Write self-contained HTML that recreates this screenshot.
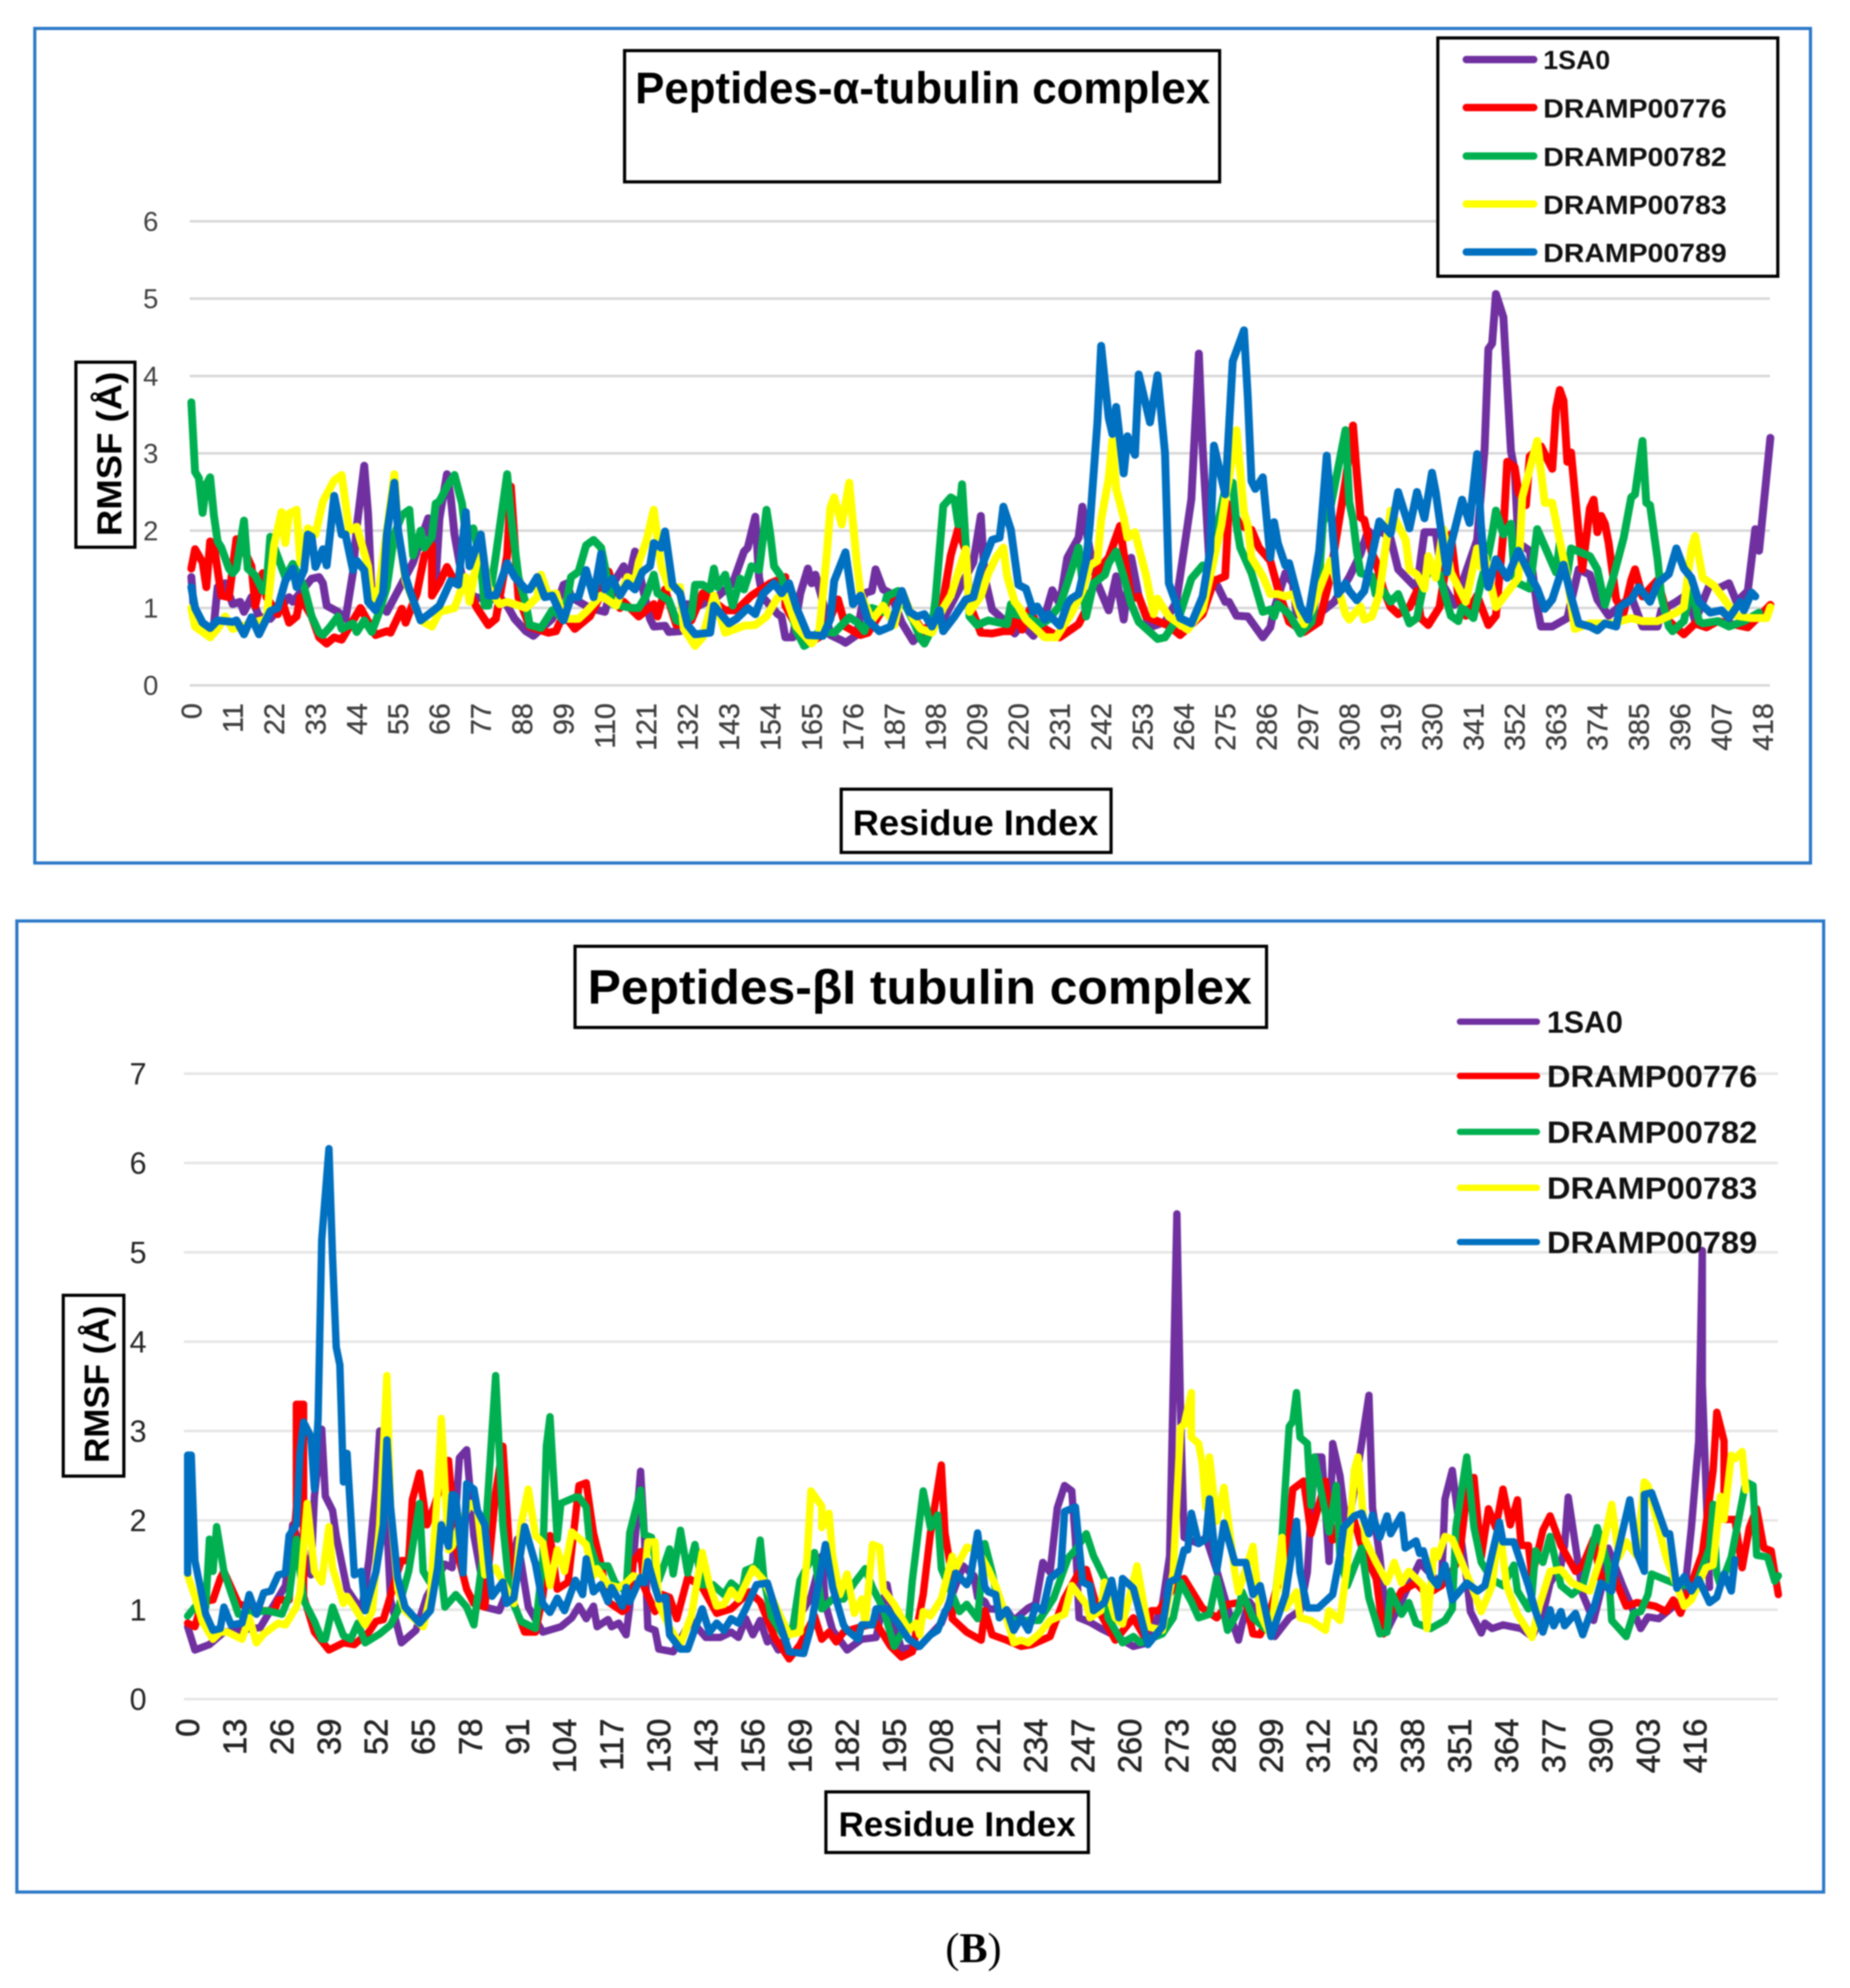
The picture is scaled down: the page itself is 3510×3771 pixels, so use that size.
<!DOCTYPE html>
<html lang="en">
<head>
<meta charset="utf-8">
<title>RMSF of peptide-tubulin complexes</title>
<style>
html,body{margin:0;padding:0;background:#fff;}
svg{display:block;filter:blur(1.3px);}
text{font-family:"Liberation Sans",sans-serif;}
</style>
</head>
<body>
<svg id="figure" xmlns="http://www.w3.org/2000/svg" width="3510" height="3771" viewBox="0 0 3510 3771">
<rect x="0" y="0" width="3510" height="3771" fill="#ffffff"/>

<rect x="66" y="54" width="3369" height="1583" fill="none" stroke="#2b78c8" stroke-width="6"/>
<g id="alphaGrid"></g>
<g id="alphaYTicks"></g>
<g id="alphaXTicks"></g>
<g id="alphaLines"></g>
<g>
<rect x="1185" y="96" width="1129" height="249" fill="#fff" stroke="#000" stroke-width="6"/>
<text x="1205" y="196" font-size="84" font-weight="700" fill="#000" textLength="1091" lengthAdjust="spacingAndGlyphs">Peptides-α-tubulin complex</text>
</g>
<g>
<rect x="2728" y="72" width="645" height="452" fill="#fff" stroke="#000" stroke-width="6"/>
<line x1="2782" x2="2910" y1="113" y2="113" stroke="#7030A0" stroke-width="14" stroke-linecap="round"/>
<text x="2928" y="131" font-size="50" font-weight="700" fill="#111" textLength="127" lengthAdjust="spacingAndGlyphs">1SA0</text>
<line x1="2782" x2="2910" y1="204" y2="204" stroke="#FF0000" stroke-width="14" stroke-linecap="round"/>
<text x="2928" y="223" font-size="50" font-weight="700" fill="#111" textLength="348" lengthAdjust="spacingAndGlyphs">DRAMP00776</text>
<line x1="2782" x2="2910" y1="296" y2="296" stroke="#00B050" stroke-width="14" stroke-linecap="round"/>
<text x="2928" y="315" font-size="50" font-weight="700" fill="#111" textLength="348" lengthAdjust="spacingAndGlyphs">DRAMP00782</text>
<line x1="2782" x2="2910" y1="387" y2="387" stroke="#FFFF00" stroke-width="14" stroke-linecap="round"/>
<text x="2928" y="406" font-size="50" font-weight="700" fill="#111" textLength="348" lengthAdjust="spacingAndGlyphs">DRAMP00783</text>
<line x1="2782" x2="2910" y1="478" y2="478" stroke="#0070C0" stroke-width="14" stroke-linecap="round"/>
<text x="2928" y="497" font-size="50" font-weight="700" fill="#111" textLength="348" lengthAdjust="spacingAndGlyphs">DRAMP00789</text>
</g>
<g>
<rect x="144" y="687" width="112" height="351" fill="#fff" stroke="#000" stroke-width="6"/>
<text transform="translate(230,1017) rotate(-90)" x="0" y="0" font-size="66" font-weight="700" fill="#000" textLength="312" lengthAdjust="spacingAndGlyphs">RMSF (Å)</text>
</g>
<g>
<rect x="1596" y="1497" width="512" height="120" fill="#fff" stroke="#000" stroke-width="6"/>
<text x="1618" y="1584" font-size="68" font-weight="700" fill="#000" textLength="466" lengthAdjust="spacingAndGlyphs">Residue Index</text>
</g>

<rect x="32" y="1747" width="3428" height="1842" fill="none" stroke="#2b78c8" stroke-width="6"/>
<g id="betaGrid"></g>
<g id="betaYTicks"></g>
<g id="betaXTicks"></g>
<g id="betaLines"></g>
<g>
<rect x="1091" y="1795" width="1312" height="154" fill="#fff" stroke="#000" stroke-width="6"/>
<text x="1115" y="1904" font-size="92" font-weight="700" fill="#000" textLength="1260" lengthAdjust="spacingAndGlyphs">Peptides-βI tubulin complex</text>
</g>
<g>
<line x1="2770" x2="2916" y1="1938" y2="1938" stroke="#7030A0" stroke-width="12" stroke-linecap="round"/>
<text x="2935" y="1959" font-size="58" font-weight="700" fill="#111" textLength="144" lengthAdjust="spacingAndGlyphs">1SA0</text>
<line x1="2770" x2="2916" y1="2041" y2="2041" stroke="#FF0000" stroke-width="12" stroke-linecap="round"/>
<text x="2935" y="2062" font-size="58" font-weight="700" fill="#111" textLength="399" lengthAdjust="spacingAndGlyphs">DRAMP00776</text>
<line x1="2770" x2="2916" y1="2147" y2="2147" stroke="#00B050" stroke-width="12" stroke-linecap="round"/>
<text x="2935" y="2168" font-size="58" font-weight="700" fill="#111" textLength="399" lengthAdjust="spacingAndGlyphs">DRAMP00782</text>
<line x1="2770" x2="2916" y1="2253" y2="2253" stroke="#FFFF00" stroke-width="12" stroke-linecap="round"/>
<text x="2935" y="2274" font-size="58" font-weight="700" fill="#111" textLength="399" lengthAdjust="spacingAndGlyphs">DRAMP00783</text>
<line x1="2770" x2="2916" y1="2356" y2="2356" stroke="#0070C0" stroke-width="12" stroke-linecap="round"/>
<text x="2935" y="2377" font-size="58" font-weight="700" fill="#111" textLength="399" lengthAdjust="spacingAndGlyphs">DRAMP00789</text>
</g>
<g>
<rect x="120" y="2457" width="115" height="343" fill="#fff" stroke="#000" stroke-width="6"/>
<text transform="translate(206,2775) rotate(-90)" x="0" y="0" font-size="66" font-weight="700" fill="#000" textLength="298" lengthAdjust="spacingAndGlyphs">RMSF (Å)</text>
</g>
<g>
<rect x="1567" y="3399" width="498" height="115" fill="#fff" stroke="#000" stroke-width="6"/>
<text x="1591" y="3483" font-size="66" font-weight="700" fill="#000" textLength="450" lengthAdjust="spacingAndGlyphs">Residue Index</text>
</g>
<text x="1847" y="3722" font-size="80" fill="#000" text-anchor="middle" style="font-family:'Liberation Serif',serif">(<tspan font-weight="700">B</tspan>)</text>
</svg>

<script>
const seriesNames = ["1SA0","DRAMP00776","DRAMP00782","DRAMP00783","DRAMP00789"];
const alphaYTickLabels = [0,1,2,3,4,5,6];
const alphaXTickLabels = [0,11,22,33,44,55,66,77,88,99,110,121,132,143,154,165,176,187,198,209,220,231,242,253,264,275,286,297,308,319,330,341,352,363,374,385,396,407,418];
const betaYTickLabels = [0,1,2,3,4,5,6,7];
const betaXTickLabels = [0,13,26,39,52,65,78,91,104,117,130,143,156,169,182,195,208,221,234,247,260,273,286,299,312,325,338,351,364,377,390,403,416];

const alphaPurpleRes = [0,1,4,6,7,9,11,13,14,16,18,21,26,27,32,34,35,36,39,41,43,44,46,47,48,52,59,63,65,66,68,69,70,72,75,79,82,84,86,89,91,96,99,100,101,106,110,112,115,116,118,120,122,123,126,127,130,132,135,140,144,147,148,150,151,152,156,157,158,160,162,164,165,166,168,170,173,174,177,179,181,182,184,186,189,192,195,200,208,210,211,213,216,219,221,224,227,229,231,233,236,237,239,241,244,246,248,250,252,255,259,262,264,266,268,269,271,273,275,276,278,281,285,287,288,291,293,294,298,304,308,311,313,315,316,319,321,326,327,328,331,333,336,342,344,345,346,347,349,351,352,353,356,358,359,362,366,369,372,374,377,383,386,390,391,395,398,400,404,406,409,411,414,416,417,420];
const alphaPurpleVal = [1.4,0.78,0.73,0.78,1.27,1.32,1.05,1.08,0.95,1.14,0.89,0.86,1.14,1.08,1.38,1.4,1.32,1.03,0.95,0.86,1.46,2.05,2.84,2.22,1.14,0.95,1.59,2.16,1.35,2.16,2.73,2.43,1.95,1.4,1.15,1.1,1.14,1.03,0.86,0.7,0.64,0.86,1.3,1.32,1.14,1,0.95,1.3,1.54,1.3,1.73,1.27,0.86,0.76,0.77,0.69,0.7,1.05,1.03,1.15,1.32,1.73,1.78,2.18,1.4,1.14,0.92,0.89,0.62,0.62,1.19,1.51,1.32,1.43,1.08,0.65,0.58,0.55,0.65,1.19,1.22,1.5,1.24,1.19,0.81,0.57,0.73,0.85,1.59,2.19,1.4,0.98,0.85,0.67,0.79,0.64,0.89,1.23,1.05,1.65,1.91,2.31,1.74,1.32,0.97,1.41,0.85,1.65,1.15,0.75,0.82,1.08,1.74,2.41,4.29,3.07,1.41,1.28,1.08,1.08,0.9,0.89,0.62,0.75,0.98,1.45,1.32,0.92,0.85,1.08,1.4,1.7,2,1.91,2.01,1.9,1.5,1.25,1.63,1.98,1.98,1.29,1.04,1.88,3.06,4.35,4.42,5.06,4.76,3.03,2.78,1.84,1.74,1.01,0.76,0.76,0.87,1.5,1.43,1.11,0.9,1.15,0.76,0.76,0.97,1.08,1.18,0.83,1.32,1.25,1.32,1.08,1.22,2.02,1.74,3.2];
const alphaRedRes = [0,1,3,4,5,6,8,10,12,14,16,17,19,20,23,24,26,28,29,32,34,36,38,40,45,49,52,53,56,57,60,62,64,64,66,68,70,73,76,79,81,84,85,87,90,95,97,99,102,106,108,111,114,115,119,123,124,126,129,133,136,142,145,149,154,158,158,161,165,168,172,174,178,180,186,189,191,195,200,202,204,206,207,210,213,216,218,219,221,223,225,231,236,238,241,244,247,248,250,252,254,260,263,269,272,275,276,279,282,284,287,289,292,296,300,303,304,307,309,310,311,312,314,315,317,319,321,324,326,327,329,332,333,335,337,339,342,345,347,349,350,352,353,355,356,359,362,363,364,365,366,367,369,370,372,373,374,375,376,377,379,381,383,384,386,390,393,397,400,403,406,414,418,420];
const alphaRedVal = [1.51,1.76,1.59,1.27,1.86,1.81,1.16,1.14,1.89,1.75,1.54,1.03,1.45,1.14,0.92,1.11,0.81,0.89,1.14,0.89,0.62,0.54,0.62,0.59,1,0.65,0.7,0.68,0.99,0.81,1.19,1.68,1.81,1.16,1.32,1.53,1.35,1.3,1,0.78,0.86,1.68,2.57,1.14,0.76,0.68,0.7,0.92,0.73,0.89,1.08,1.47,1,1.08,0.89,1.05,0.89,1.24,0.78,0.84,1.19,0.97,0.97,1.16,1.32,1.4,1.03,0.76,0.57,0.65,1.11,0.76,0.65,0.68,1.14,1.19,0.95,0.68,1.11,1.68,2.03,1.73,1.05,0.68,0.67,0.7,0.7,0.89,0.72,0.98,0.79,0.62,0.79,0.98,1.48,1.65,2.06,1.71,1.12,1.15,0.89,0.77,0.65,0.92,1.35,1.41,2.34,2.07,2.01,1.78,1.61,1.25,0.82,0.69,0.82,1.41,1.74,2.64,3.36,2.74,2.17,2.14,1.71,1.61,1.25,1.01,0.92,1.01,1.22,0.87,0.78,1.01,1.32,1.95,1.15,0.9,1.16,0.78,0.9,1.98,2.89,2.82,2.5,2.33,2.96,3.09,2.8,3.58,3.82,3.68,2.89,3.01,1.98,1.5,2.29,2.4,1.98,2.19,2.09,1.84,1.11,0.94,1.36,1.5,1.15,1.36,0.83,0.66,0.8,0.75,0.83,0.75,0.94,1.04];
const alphaGreenRes = [0,1,2,3,4,5,6,7,8,10,11,12,14,15,17,19,20,21,25,27,30,32,34,35,37,39,40,43,44,46,48,50,52,54,56,58,59,61,62,64,65,66,68,70,72,73,75,77,78,79,81,84,85,87,89,90,93,96,97,99,101,103,105,107,109,112,117,119,121,123,124,127,129,131,133,134,136,138,139,140,142,144,146,147,149,151,153,154,155,157,159,161,163,165,167,171,173,175,177,179,181,184,185,188,192,194,195,197,198,200,202,203,204,205,206,207,209,212,217,218,219,222,226,228,231,233,236,237,238,240,243,244,246,248,250,252,257,259,263,266,269,271,273,275,277,278,279,282,285,287,288,289,292,295,298,300,301,303,307,308,309,310,311,314,315,317,319,321,324,326,328,330,332,335,337,338,341,343,345,346,347,349,351,352,353,356,358,363,364,366,367,372,374,376,378,381,383,384,386,387,388,390,391,393,394,397,399,401,402,406,409,413,417,420];
const alphaGreenVal = [3.66,2.76,2.68,2.23,2.6,2.69,2.2,1.86,1.78,1.51,1.45,1.51,2.13,1.51,1.42,1.22,1.3,1.92,1.4,1.57,1.27,0.89,0.68,0.65,0.76,0.89,0.73,0.8,0.69,0.84,0.69,0.95,1.27,1.95,2.2,2.27,1.68,2,1.78,1.92,2.35,2.38,2.57,2.72,2.35,1.95,2.03,1.6,1.03,1.03,1.68,2.73,2.2,1.4,1.05,0.78,0.74,0.97,0.95,0.84,1.4,1.47,1.81,1.88,1.78,1.05,1,1,1.16,1.43,1.19,1.1,0.84,0.8,0.89,1.3,1.3,1.24,1.51,1.27,1.43,1.03,1.38,1.24,1.54,1.49,2.27,1.95,1.54,1.4,1.05,0.7,0.51,0.57,0.7,0.68,0.78,0.88,0.82,0.7,1,0.95,1.15,1.22,0.84,0.6,0.54,0.73,1.14,2.32,2.43,2.4,2.08,2.6,1.81,0.89,0.78,0.84,0.79,1.05,0.92,0.89,0.79,0.85,1.03,1.32,1.78,1.35,0.89,1.32,1.43,1.58,1.73,1.41,1.05,0.82,0.6,0.62,0.92,1.38,1.55,1.48,2.07,2.54,2.62,2.07,1.78,1.45,0.95,0.98,0.89,1.05,0.92,0.67,0.82,1.41,2.11,2.3,3.3,2.37,2.14,1.74,1.45,1.41,1.18,1.22,1.08,1.18,0.8,0.87,1.36,1.56,1.43,0.9,0.83,1.01,0.87,1.32,1.7,1.95,2.26,1.95,2.09,1.39,1.32,1.25,2.02,1.46,1.84,1.43,1.77,1.67,1.5,1.04,1.36,1.91,2.43,2.47,3.16,2.36,2.33,1.63,1.15,0.76,0.7,0.83,1.29,0.83,0.8,0.83,0.76,0.83,0.94];
const alphaYellowRes = [0,1,5,7,9,11,20,22,24,25,26,28,29,31,33,35,38,40,42,44,47,48,50,54,55,57,61,64,66,70,73,74,77,79,82,84,89,92,93,95,97,99,103,105,109,113,116,118,119,121,123,125,127,130,131,134,136,139,142,147,150,153,156,158,161,165,167,169,170,171,173,175,177,178,181,184,187,189,192,194,197,200,202,206,207,210,212,214,216,217,219,220,222,227,230,234,237,239,241,242,244,245,246,248,249,251,254,256,257,260,265,269,271,274,275,276,278,280,281,282,285,287,289,291,293,296,298,303,307,308,311,312,314,316,319,323,324,326,328,329,331,333,335,339,342,343,344,347,353,354,358,360,362,366,368,372,378,383,386,390,395,397,399,400,402,405,411,415,419,420];
const alphaYellowVal = [1,0.76,0.62,0.73,0.89,0.73,0.86,1.81,2.24,1.84,2.22,2.27,1.59,2.03,1.95,2.38,2.65,2.72,2,2.05,1.54,1.08,1.27,2.73,2,1.35,0.84,0.76,0.95,1,1.4,1.08,1.89,1.27,1.05,1.08,1,1.14,1.43,1.16,1.19,0.86,0.86,0.95,1.16,1.03,1.4,1.35,1.59,1.86,2.27,1.54,1.27,1.27,0.73,0.51,0.62,1.16,0.68,0.77,0.78,0.89,1.14,1.16,0.76,0.54,0.68,1.68,2.3,2.43,2.08,2.62,1.59,1.19,0.84,1.03,0.78,1.22,0.86,0.73,0.68,1,1.16,1.76,0.95,1.15,1.45,1.65,1.78,1.41,1.08,1.02,0.85,0.62,0.62,0.92,1.22,1.55,1.61,2.14,2.67,3.17,2.54,2.17,1.91,1.98,1.41,0.92,1.12,0.89,0.72,0.98,1.41,2.07,2.41,2.67,3.3,2.24,2.07,1.65,1.41,1.18,1.18,1.15,1.18,0.79,0.98,1.61,0.92,0.85,1.02,0.85,0.89,1.18,2.26,1.88,1.5,1.43,1.25,1.67,1.39,2.02,1.46,1.08,1.77,1.53,1.67,1.01,1.39,2.43,3.16,2.36,2.36,1.39,0.73,0.8,0.8,0.87,0.83,0.83,0.94,1.01,1.77,1.93,1.39,1.29,0.9,0.87,0.87,1.01,1.01];
const alphaBlueRes = [0,1,3,5,7,11,12,14,16,18,21,23,25,27,28,30,31,32,33,35,36,38,40,41,43,44,46,47,49,51,52,54,55,57,58,61,64,66,69,71,73,74,77,79,81,84,86,89,90,92,94,96,99,101,103,105,107,109,110,112,114,116,118,120,122,123,125,126,128,130,132,134,138,139,143,145,148,150,152,155,157,159,161,164,168,170,171,174,176,178,180,183,186,189,191,193,195,197,199,200,203,206,208,210,213,215,216,218,219,220,222,224,225,227,228,231,233,234,236,238,239,241,242,244,245,246,248,249,251,252,255,257,259,260,262,263,266,269,271,272,275,277,280,281,282,283,285,287,288,289,291,292,295,297,298,300,302,304,305,307,308,310,312,314,316,319,321,324,326,328,330,331,334,335,338,340,342,343,344,345,347,350,353,356,358,360,362,365,367,369,372,374,376,379,380,383,385,388,390,393,395,397,399,401,404,407,409,412,413,415,416,418,420];
const alphaBlueVal = [1.27,1,0.81,0.74,0.84,0.82,0.84,0.66,0.88,0.66,0.96,1,1.35,1.51,1.27,1.49,1.95,1.92,1.53,1.76,1.55,2.45,1.95,1.95,1.49,1.61,1.49,1.08,0.97,1.19,1.95,2.62,2,1.4,1.24,0.84,0.95,1.03,1.35,1.3,2.24,1.54,1.95,1.16,1.16,1.58,1.4,1.24,1.24,1.4,1.14,1.16,0.84,1.14,1.14,1.49,1.14,1.7,1.24,1.38,1.16,1.32,1.24,1.47,1.54,1.84,1.78,1.99,1.3,1.19,0.78,0.66,0.68,1.03,0.8,0.86,1,0.92,1.18,1.32,1.19,1.32,1,0.65,0.64,0.86,1.35,1.72,1.05,1.16,0.84,0.7,0.76,1.22,0.95,0.89,0.92,0.76,0.97,0.7,0.89,1.11,1.14,1.51,1.88,1.91,2.31,2.01,1.65,1.3,1.25,0.95,1.02,0.85,0.92,0.77,1.05,1.12,1.18,1.61,2.08,3.4,4.39,3.46,3.25,3.6,2.74,3.22,2.98,4.02,3.4,4.01,3,1.32,1.05,0.87,0.8,1.15,1.74,3.1,2.47,4.19,4.59,3.73,2.64,2.54,2.69,1.65,2.11,1.84,1.55,1.58,1.02,0.85,1.15,1.74,2.97,1.74,1.18,1.32,1.22,1.1,1.22,1.67,2.12,1.96,2.5,2.03,2.5,2.16,2.75,2.5,1.46,1.81,2.4,2.1,2.99,2.09,1.53,1.27,1.63,1.39,1.74,1.43,1.25,0.99,1.11,1.56,1.15,0.8,0.76,0.71,0.8,0.76,1.01,1.11,1.27,1.08,1.32,1.44,1.77,1.51,1.39,1.08,0.94,0.97,0.87,1.08,0.97,1.2,1.15];

const betaPurpleRes = [0,2,6,10,20,27,29,34,35,37,38,40,41,43,44,48,50,52,53,55,56,59,63,66,71,73,75,77,79,81,82,86,88,91,94,98,103,106,108,110,112,113,116,117,119,121,122,125,126,127,129,130,134,139,143,147,150,152,154,156,158,160,161,163,172,175,176,178,182,186,190,193,195,197,202,208,214,217,218,220,221,226,228,232,234,236,238,240,242,244,245,246,249,252,255,261,265,269,271,273,274,275,279,281,284,287,290,291,293,300,304,307,309,311,313,315,316,318,320,324,326,327,329,331,335,340,346,347,349,351,353,354,357,358,360,363,368,371,374,376,379,380,381,383,385,388,390,392,396,401,403,406,413,415,417,418,418,420];
const betaPurpleVal = [0.81,0.55,0.61,0.75,0.8,1.27,1.95,1.39,2.27,3.02,2.27,2.11,1.83,1.43,1.23,0.99,1.55,2.35,3,1.95,1.11,0.63,0.77,1.15,1.51,1.47,2.7,2.79,1.83,1.39,1.03,0.99,1.19,1.79,1.03,0.75,0.81,0.91,1.04,0.9,1.04,0.81,0.89,0.81,0.85,0.72,1.04,2.55,1.86,0.8,0.77,0.56,0.53,0.88,0.69,0.69,0.75,0.69,0.9,0.72,0.88,0.64,0.69,0.55,1.14,1.6,1.06,0.77,0.55,0.67,0.69,1.28,0.85,0.56,0.59,0.85,1.49,1.38,1.14,1.09,1.01,1,0.88,1.02,1.06,1.53,1.42,2.14,2.39,2.33,1.78,0.91,0.86,0.79,0.73,0.59,0.63,1.06,1.6,5.43,3.22,1.81,1.74,1.81,1.44,1.02,0.66,0.84,1.09,0.7,0.91,0.99,1.42,2.71,2.71,1.54,2.86,2.5,1.85,2.86,3.4,2.14,1.6,0.77,1.1,1.53,1.27,2.24,2.56,1.92,1.34,0.98,0.74,0.85,0.79,0.83,0.79,0.7,0.95,1.3,1.5,1.72,2.26,1.72,1.17,0.88,1.21,1.69,1.27,0.79,0.92,0.9,1.14,1.92,2.89,5.02,3.53,1.25];
const betaRedRes = [0,2,4,7,9,10,14,19,24,25,28,30,30,32,32,35,39,43,46,50,52,54,58,59,61,62,64,66,68,72,74,77,79,82,85,87,89,90,93,96,98,100,102,105,108,110,112,114,116,120,121,123,125,126,129,131,133,135,138,142,146,150,155,158,162,166,169,173,175,177,179,181,185,190,194,197,200,203,205,208,209,211,211,215,219,220,222,226,230,233,238,242,246,248,251,256,261,264,266,268,272,275,280,284,287,292,294,296,299,303,305,308,310,314,316,322,324,328,330,332,335,339,342,346,349,351,353,355,357,359,361,363,365,367,368,370,371,374,376,379,383,385,388,390,393,397,400,405,408,410,412,418,421,422,424,424,427,429,431,433,435,437,439];
const betaRedVal = [0.85,0.81,1.09,1.11,1.35,1.43,1.07,0.99,0.99,1.11,1.11,2.15,3.3,3.3,1.15,0.75,0.55,0.63,0.61,0.75,0.87,0.89,1.43,1.55,1.55,2.23,2.53,1.95,2.15,2.67,1.71,1.23,1.07,1.03,2.31,2.83,1.55,1.07,0.75,0.75,1.15,1.83,1.23,1.31,2.39,2.42,1.86,1.52,1.09,0.98,1.01,1.54,1.65,1.25,0.98,1.17,1.14,0.9,1.36,1.25,0.96,1.01,1.2,1.09,0.69,0.45,0.61,0.93,0.67,0.75,0.64,0.75,0.8,0.85,0.59,0.47,0.53,1.17,1.86,2.62,1.86,1.36,0.9,0.75,0.66,0.99,0.72,0.66,0.59,0.61,0.7,1.13,1.42,1.45,1.02,0.66,0.91,0.7,0.99,0.99,1.24,1.35,1.02,0.91,1.06,1.09,0.73,0.72,1.02,1.6,2.35,2.44,1.85,2.44,1.78,1.99,1.7,1.35,0.73,0.98,1.21,1.3,1.17,1.27,1.43,1.59,2.3,2.48,1.59,2.13,1.92,2.35,1.95,2.23,1.72,1.72,1.37,1.89,2.05,1.72,1.43,1.5,1.79,1.34,1.43,1.04,1.08,1.04,0.98,1.11,0.96,1.63,2.56,3.21,2.89,2.01,2.01,1.47,1.92,2.13,1.69,1.66,1.17];
const betaGreenRes = [0,2,5,6,7,8,10,12,14,22,26,28,30,32,35,37,38,40,43,45,47,49,53,56,58,61,64,65,68,69,71,74,77,79,82,85,87,89,92,96,98,99,100,102,103,107,108,110,111,113,116,118,121,122,125,126,128,130,131,133,134,136,138,140,142,145,148,150,153,154,157,158,159,161,165,167,169,173,175,178,181,184,187,189,192,195,199,200,203,205,207,208,213,215,218,220,222,224,228,232,235,239,243,245,248,250,251,253,254,258,261,263,269,272,274,277,279,282,284,287,290,291,294,299,302,304,305,306,307,309,310,311,315,317,318,320,324,326,329,331,332,335,337,339,343,347,349,350,353,355,357,360,363,366,367,370,371,372,374,376,379,382,385,389,392,393,397,399,401,403,404,410,416,420,421,422,423,426,430,432,433,436,438,439];
const betaGreenVal = [0.93,1.03,1.03,1.79,1.43,1.93,1.43,1.19,0.95,0.99,0.95,1.15,1.79,1.11,0.87,0.67,0.67,1.03,0.71,0.67,0.85,0.63,0.73,0.83,0.99,1.43,2.19,1.43,1.23,1.75,1.03,1.17,1.03,0.83,1.75,3.62,1.95,1.15,0.87,0.79,1.55,2.83,3.16,1.79,2.19,2.26,2.26,2.15,1.73,1.49,1.49,1.3,1.2,1.86,2.34,1.84,1.81,1.33,1.44,1.68,1.4,1.89,1.41,1.73,1.28,1.28,1.17,1.3,1.2,1.44,1.49,1.78,1.36,0.93,0.67,0.8,1.33,1.64,1.01,1.12,1.12,1.3,1.46,1.25,1.01,0.59,0.88,1.33,2.33,1.92,2.06,1.46,0.98,1.06,0.9,1.74,1.42,1.02,0.88,0.88,0.88,1.13,1.58,1.67,1.85,1.6,1.52,1.35,0.91,0.63,0.7,0.63,0.73,0.91,1.31,1.09,0.91,0.95,1.35,0.77,0.99,1.2,0.91,0.73,1.81,3.05,3.11,3.43,2.93,2.86,2.17,2.71,1.87,2.39,1.6,1.27,1.69,1.13,0.73,0.75,1.21,0.95,1.08,0.85,0.79,0.88,1.01,1.92,2.71,1.92,1.53,1.34,1.27,1.5,1.21,1.01,1.17,1.66,1.53,1.82,1.27,1.17,1.27,1.92,1.5,0.88,0.7,0.96,0.98,1.17,1.4,1.3,1.25,1.69,2.18,1.4,1.27,1.59,2.43,2.39,1.61,1.59,1.32,1.38];
const betaYellowRes = [0,2,4,7,9,11,15,17,19,21,25,27,30,31,33,35,37,39,40,43,44,46,49,51,53,55,56,58,60,65,67,69,70,72,73,75,78,80,82,85,90,92,94,96,98,100,102,104,106,110,112,113,116,119,121,123,126,127,129,130,133,136,139,142,144,146,148,150,152,156,159,163,166,169,171,172,175,175,177,178,180,182,184,186,187,189,191,192,195,199,201,202,203,205,208,211,212,215,218,221,223,226,228,230,232,235,238,242,244,248,249,252,253,256,258,262,265,269,272,274,275,277,277,279,280,281,282,284,286,289,290,294,296,299,302,303,306,307,310,314,315,318,320,322,323,325,328,331,333,335,337,341,342,344,345,347,349,354,357,360,362,364,367,371,373,376,379,382,387,390,393,395,397,400,402,403,408,413,415,419,421,423,424,426,427,429,430];
const betaYellowVal = [1.39,1.15,0.87,0.67,0.75,0.75,0.67,0.91,0.63,0.73,0.85,0.83,1.03,1.19,2.19,1.43,1.31,1.93,1.47,1.07,1.15,1.03,0.83,0.99,1.95,3.62,2.15,1.23,0.99,0.81,1.15,2.35,3.14,1.67,1.71,1.95,2.19,2.11,1.39,1.47,1.07,1.95,2.35,1.83,1.75,1.27,1.67,1.43,1.87,1.73,1.38,1.46,1.28,1.25,1.3,1.38,1.33,1.76,1.76,1.06,0.8,0.61,0.93,1.64,1.28,1.04,1.06,1.22,1.12,1.46,1.33,0.98,0.72,0.75,1.6,2.33,2.16,1.92,2.08,1.6,1.17,1.4,0.96,1.12,0.85,1.73,1.7,1.22,1.06,0.77,0.85,0.72,0.98,0.93,1.12,1.6,1.46,1.7,1.67,1.45,1.27,0.91,0.63,0.66,0.63,0.73,0.88,0.95,1.27,1.06,0.91,0.99,1.31,0.91,0.84,1.49,0.81,0.77,1.42,3.04,3.07,3.43,2.93,2.86,2.64,2.14,2.71,1.99,2.37,1.42,1.2,1.71,0.95,0.7,1.81,1.02,1.2,0.91,0.88,0.77,0.99,0.88,1.49,2.57,2.71,1.78,1.53,1.31,1.53,1.3,1.43,1.27,0.79,1.66,1.59,1.82,1.79,1.3,0.98,1.27,1.95,1.27,0.95,0.69,1.04,1.43,1.45,1.3,1.21,1.59,2.18,1.59,1.76,1.6,2.43,2.39,1.59,1.04,1.11,1.47,1.5,2.27,2.01,2.73,2.69,2.77,2.34];
const betaBlueRes = [0,0,1,2,5,7,9,10,12,15,17,19,21,23,25,27,28,30,31,32,34,35,36,37,39,40,41,42,43,44,46,48,49,52,54,55,56,58,60,64,67,69,70,72,73,74,76,77,79,80,82,83,84,87,88,90,93,96,98,100,102,104,107,109,110,112,114,116,117,120,121,122,125,126,127,129,130,132,133,136,138,142,144,146,148,150,152,154,157,160,163,166,170,172,173,176,178,181,182,185,186,189,190,193,196,199,202,205,207,209,210,212,215,216,218,220,221,223,224,226,228,230,232,234,236,238,241,242,245,247,249,250,253,255,257,258,261,265,269,271,273,275,276,277,279,281,282,284,286,289,292,294,296,299,303,306,307,309,312,316,318,319,322,324,326,327,329,331,332,335,336,339,340,341,343,345,347,349,353,356,358,362,363,366,370,372,374,376,377,379,380,383,385,387,388,390,393,394,398,400,402,402,404,408,409,411,413,415,417,420,422,424,426,427];
const betaBlueVal = [1.41,2.73,2.73,1.55,0.95,0.77,0.79,1.03,0.83,0.85,1.17,0.95,1.19,1.21,1.39,1.41,1.83,1.95,2.75,3.1,2.94,2.35,3.14,5.14,6.16,4.94,3.94,3.74,2.43,2.75,1.39,1.43,0.99,1.43,1.95,2.9,2.15,1.35,1.03,0.85,0.99,1.47,1.95,1.71,2.29,2.27,1.41,2.41,2.35,2.11,1.95,1.55,1.15,1.31,1.07,1.13,1.93,1.51,1.07,0.97,1.13,0.99,1.33,1.17,1.57,1.2,1.28,1.09,1.25,1.04,1.25,1.09,1.36,1.3,1.54,1.25,1.12,1.14,0.72,0.56,0.56,1.01,0.75,0.85,0.77,0.9,0.85,1.01,1.28,1.3,0.9,0.53,0.51,0.8,1.04,1.73,1.25,0.83,0.77,0.67,0.83,0.83,1.01,1.01,0.85,0.67,0.59,0.72,0.77,0.98,1.04,1.41,1.28,1.36,1.86,1.25,1.2,1.17,0.91,1,0.77,0.91,0.77,1.04,0.99,1.35,1.45,2.1,2.15,1.31,1.27,0.99,1.08,1.33,0.91,1.35,1.24,0.61,0.81,1.31,1.35,1.67,1.67,2.08,1.74,1.79,2.24,1.44,1.97,1.53,1.53,1.17,1.27,0.7,1.17,1.99,1.42,1.02,1.02,1.17,1.6,1.92,2.05,2.08,1.85,2.06,1.81,2.05,1.85,2.06,1.69,1.77,1.63,1.66,1.37,1.27,1.5,1.11,1.3,1.21,1.27,1.98,1.76,1.76,1.27,0.98,0.75,1,0.82,0.98,0.82,0.96,0.72,0.95,1.01,1.3,1.21,1.53,2.23,1.63,1.43,2.29,2.31,1.85,1.85,1.24,1.37,1.21,1.34,1.08,1.14,1.4,1.21,1.56,1.3,1.77];

const seriesColors = ["#7030A0","#FF0000","#00B050","#FFFF00","#0070C0"];
const SVGNS = "http://www.w3.org/2000/svg";

function alphaX(r){ return 363 + 7.133 * r; }
function alphaY(v){ return 1300 - 146.7 * v; }
function betaX(r){ return 356 + 6.875 * r; }
function betaY(v){ return 3223 - 169.5 * v; }

function drawPanel(prefix, scaleX, scaleY, yTicks, xTicks, allRes, allVal, cfg){
  const grid = document.getElementById(prefix + "Grid");
  yTicks.forEach(function(t){
    const gl = document.createElementNS(SVGNS, "line");
    
    
    gl.setAttribute("x1", cfg.gridX1);
    gl.setAttribute("x2", cfg.gridX2);
    gl.setAttribute("y1", scaleY(t));
    gl.setAttribute("y2", scaleY(t));
    gl.setAttribute("stroke", cfg.gridColor);
    gl.setAttribute("stroke-width", cfg.gridWidth);
    grid.appendChild(gl);
  });
  const yGroup = document.getElementById(prefix + "YTicks");
  yTicks.forEach(function(t){
    const lab = document.createElementNS(SVGNS, "text");
    
    
    lab.setAttribute("x", cfg.yLabelX);
    lab.setAttribute("y", scaleY(t) + cfg.yFont * 0.35);
    lab.setAttribute("font-size", cfg.yFont);
    lab.setAttribute("fill", cfg.labelColor);
    lab.setAttribute("text-anchor", "middle");
    lab.textContent = String(t);
    yGroup.appendChild(lab);
  });
  const xGroup = document.getElementById(prefix + "XTicks");
  xTicks.forEach(function(t){
    const lab = document.createElementNS(SVGNS, "text");
    
    
    const px = scaleX(t) + cfg.xFont * 0.35;
    lab.setAttribute("transform", "translate(" + px + "," + cfg.xLabelTop + ") rotate(-90)");
    lab.setAttribute("font-size", cfg.xFont);
    lab.setAttribute("fill", cfg.labelColor);
    lab.setAttribute("text-anchor", "end");
    lab.setAttribute("stroke", cfg.labelColor);
    lab.setAttribute("stroke-width", cfg.xStroke);
    lab.textContent = String(t);
    xGroup.appendChild(lab);
  });
  const lineGroup = document.getElementById(prefix + "Lines");
  allRes.forEach(function(res, i){
    const vals = allVal[i];
    const pts = res.map(function(r, k){ return [r, vals[k]]; })
      .sort(function(a, b){ return a[0] - b[0]; })
      .map(function(p){ return scaleX(p[0]).toFixed(1) + "," + scaleY(p[1]).toFixed(1); })
      .join(" ");
    const pl = document.createElementNS(SVGNS, "polyline");
    
    
    pl.setAttribute("data-series", seriesNames[i]);
    pl.setAttribute("points", pts);
    pl.setAttribute("fill", "none");
    pl.setAttribute("stroke", seriesColors[i]);
    pl.setAttribute("stroke-width", cfg.lineWidth);
    pl.setAttribute("stroke-linejoin", "round");
    pl.setAttribute("stroke-linecap", "round");
    lineGroup.appendChild(pl);
  });
}

drawPanel("alpha", alphaX, alphaY, alphaYTickLabels, alphaXTickLabels,
  [alphaPurpleRes, alphaRedRes, alphaGreenRes, alphaYellowRes, alphaBlueRes],
  [alphaPurpleVal, alphaRedVal, alphaGreenVal, alphaYellowVal, alphaBlueVal],
  {gridX1:360, gridX2:3358, gridColor:"#d9d9d9", gridWidth:5, yLabelX:286, yFont:52, xLabelTop:1334, xFont:54, xStroke:0.8, labelColor:"#404040", lineWidth:15});

drawPanel("beta", betaX, betaY, betaYTickLabels, betaXTickLabels,
  [betaPurpleRes, betaRedRes, betaGreenRes, betaYellowRes, betaBlueRes],
  [betaPurpleVal, betaRedVal, betaGreenVal, betaYellowVal, betaBlueVal],
  {gridX1:349, gridX2:3373, gridColor:"#e6e6e6", gridWidth:5, yLabelX:262, yFont:58, xLabelTop:3260, xFont:62, xStroke:1.2, labelColor:"#262626", lineWidth:14});
</script>
</body>
</html>
